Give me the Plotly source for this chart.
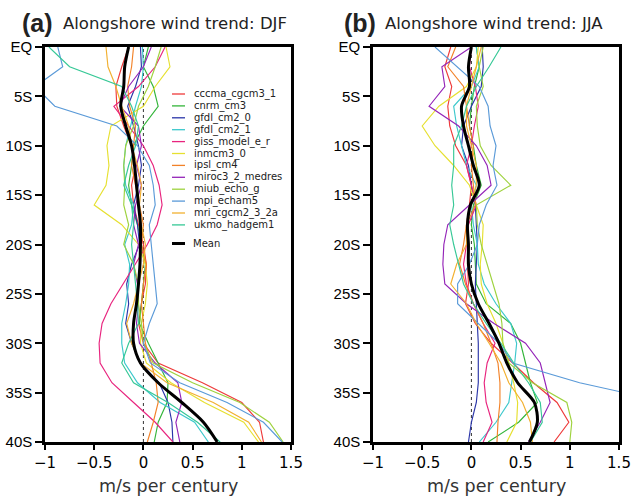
import plotly.graph_objects as go

W, H = 639, 496

lat = [0, 2, 4, 6, 8, 10, 12, 14, 16, 18, 20, 22, 24, 26, 28, 30, 32, 34, 36, 38, 40]
lat_ticks = [0, 5, 10, 15, 20, 25, 30, 35, 40]
lat_labels = ["EQ", "5S", "10S", "15S", "20S", "25S", "30S", "35S", "40S"]
x_ticks = [-1, -0.5, 0, 0.5, 1, 1.5]

models = ["cccma_cgcm3_1", "cnrm_cm3", "gfdl_cm2_0", "gfdl_cm2_1", "giss_model_e_r",
          "inmcm3_0", "ipsl_cm4", "miroc3_2_medres", "miub_echo_g", "mpi_echam5",
          "mri_cgcm2_3_2a", "ukmo_hadgem1"]
colors = ["#ee3a3a", "#33b53a", "#2a35a8", "#3cc8cc", "#e8247e", "#e6e030",
          "#f28228", "#9424b8", "#9ed23e", "#5a9ad8", "#f2b030", "#36c896"]

# DJF (panel a)
djf_cccma = [-0.15, -0.22, -0.28, -0.27, -0.20, -0.12, -0.08, -0.12, -0.10, -0.05, 0.00, 0.03, 0.02, -0.02, -0.05, 0.00, 0.15, 0.60, 1.00, 1.18, 1.22]
djf_cnrm = [0.05, 0.00, 0.10, 0.15, 0.00, -0.10, -0.12, -0.15, -0.12, -0.06, -0.02, 0.02, 0.00, -0.02, -0.04, 0.05, 0.15, 0.25, 0.24, 0.15, 0.11]
djf_gfdl0 = [-0.03, -0.02, -0.08, -0.16, -0.10, -0.05, -0.02, -0.05, -0.10, -0.06, -0.04, -0.12, -0.17, -0.15, -0.18, -0.12, -0.03, 0.16, 0.25, 0.29, 0.30]
djf_gfdl1 = [-0.01, 0.00, -0.02, -0.08, -0.13, -0.18, -0.20, -0.18, -0.10, -0.12, -0.19, -0.14, -0.15, -0.18, -0.22, -0.22, -0.19, -0.06, 0.17, 0.52, 0.66]
djf_giss = [0.22, 0.12, -0.05, -0.30, -0.15, 0.00, 0.10, 0.16, 0.19, 0.14, 0.04, -0.085, -0.21, -0.33, -0.42, -0.45, -0.44, -0.32, -0.10, 0.12, 0.30]
djf_inmcm = [0.23, 0.27, 0.12, 0.00, -0.33, -0.37, -0.35, -0.38, -0.50, -0.22, -0.05, 0.02, 0.04, 0.02, -0.02, -0.03, 0.03, 0.28, 0.62, 1.02, 1.17]
djf_ipsl = [-0.10, -0.12, -0.16, -0.14, -0.08, -0.10, -0.12, -0.08, -0.04, 0.00, -0.02, 0.03, 0.00, -0.02, 0.00, 0.02, 0.08, 0.13, 0.15, 0.10, 0.04]
djf_miroc = [0.08, 0.00, -0.15, -0.24, -0.05, -0.02, -0.07, -0.02, -0.08, -0.10, -0.05, -0.10, -0.06, -0.05, -0.07, -0.04, 0.12, 0.35, 0.39, 0.33, 0.37]
djf_miub = [0.18, 0.12, 0.05, -0.05, -0.10, -0.18, -0.20, -0.19, -0.20, -0.15, -0.20, -0.10, -0.05, -0.05, -0.02, 0.00, 0.10, 0.50, 0.98, 1.28, 1.42]
djf_mpi = [-0.87, -0.82, -1.10, -0.90, -0.27, -0.06, 0.06, 0.10, 0.12, 0.06, 0.08, 0.10, 0.12, 0.14, 0.06, 0.00, 0.07, 0.37, 0.85, 1.22, 1.41]
djf_mri = [-0.38, -0.36, -0.28, -0.22, -0.15, -0.12, -0.06, -0.02, -0.04, -0.02, 0.02, 0.00, -0.05, -0.10, -0.17, -0.12, -0.03, 0.24, 0.71, 1.07, 1.20]
djf_ukmo = [-0.96, -0.75, -0.22, -0.12, -0.05, -0.08, -0.15, -0.20, -0.12, -0.10, -0.12, -0.10, -0.08, -0.06, -0.05, -0.15, -0.22, -0.10, 0.25, 0.55, 0.78]
djf_mean = [-0.15, -0.19, -0.20, -0.23, -0.18, -0.12, -0.09, -0.07, -0.05, -0.03, -0.03, -0.035, -0.05, -0.07, -0.10, -0.10, -0.03, 0.15, 0.39, 0.61, 0.75]

# JJA (panel b)
jja_cccma = [-0.21, -0.27, -0.20, -0.24, -0.22, -0.16, -0.05, 0.00, -0.02, -0.05, -0.03, -0.04, -0.03, -0.06, 0.04, 0.20, 0.42, 0.63, 0.87, 0.99, 0.84]
jja_cnrm = [0.05, 0.08, 0.03, 0.00, -0.02, 0.02, 0.05, 0.10, 0.02, 0.00, 0.03, 0.04, 0.05, 0.15, 0.40, 0.50, 0.55, 0.60, 0.67, 0.48, 0.17]
jja_gfdl0 = [0.11, 0.12, 0.10, 0.00, -0.08, -0.10, -0.03, 0.00, 0.04, 0.05, 0.06, 0.05, 0.04, 0.05, 0.06, 0.07, 0.07, 0.07, 0.05, 0.00, -0.03]
jja_gfdl1 = [0.05, 0.08, 0.00, -0.18, -0.15, -0.10, -0.05, 0.05, 0.00, 0.02, 0.06, 0.07, 0.13, 0.25, 0.40, 0.46, 0.44, 0.41, 0.38, 0.25, 0.08]
jja_giss = [0.00, -0.02, 0.04, 0.07, 0.03, 0.00, -0.05, 0.00, 0.05, -0.03, -0.05, -0.08, -0.05, 0.02, 0.12, 0.24, 0.16, 0.13, 0.15, 0.21, 0.12]
jja_inmcm = [0.07, 0.05, -0.05, -0.33, -0.50, -0.37, -0.18, -0.02, 0.05, 0.12, 0.11, 0.09, 0.10, 0.16, 0.25, 0.32, 0.38, 0.43, 0.47, 0.46, 0.36]
jja_ipsl = [-0.16, -0.24, -0.08, -0.05, -0.02, 0.02, 0.00, 0.02, 0.04, -0.05, -0.08, -0.12, -0.06, 0.02, 0.12, 0.20, 0.27, 0.29, 0.29, 0.27, 0.26]
jja_miroc = [0.00, -0.30, -0.27, -0.43, -0.13, 0.05, 0.16, 0.20, -0.02, -0.24, -0.28, -0.29, -0.27, -0.05, 0.23, 0.55, 0.70, 0.75, 0.80, 0.70, 0.58]
jja_miub = [0.12, 0.08, 0.12, 0.05, 0.06, 0.09, 0.20, 0.40, 0.05, 0.06, 0.10, 0.16, 0.22, 0.28, 0.31, 0.32, 0.38, 0.62, 0.97, 1.02, 1.00]
jja_mpi = [-0.37, -0.15, 0.08, 0.17, 0.19, 0.25, 0.22, 0.26, 0.15, 0.08, 0.06, -0.02, -0.14, -0.14, 0.07, 0.28, 0.42, 1.10, 2.00, 2.60, 3.00]
jja_mri = [0.10, 0.05, 0.00, -0.05, -0.05, 0.00, 0.05, 0.05, 0.00, -0.05, -0.05, -0.15, -0.21, -0.05, 0.05, 0.18, 0.30, 0.38, 0.52, 0.60, 0.62]
jja_ukmo = [0.30, 0.18, 0.05, -0.05, -0.10, -0.18, -0.18, -0.20, -0.18, -0.22, -0.18, -0.13, -0.08, 0.02, 0.15, 0.30, 0.43, 0.58, 0.70, 0.72, 0.60]
jja_mean = [0.00, -0.03, -0.02, -0.10, -0.08, -0.03, 0.02, 0.08, -0.01, -0.04, -0.03, -0.03, 0.00, 0.07, 0.18, 0.28, 0.36, 0.47, 0.64, 0.67, 0.59]

djf_models = [djf_cccma, djf_cnrm, djf_gfdl0, djf_gfdl1, djf_giss, djf_inmcm,
              djf_ipsl, djf_miroc, djf_miub, djf_mpi, djf_mri, djf_ukmo]
jja_models = [jja_cccma, jja_cnrm, jja_gfdl0, jja_gfdl1, jja_giss, jja_inmcm,
              jja_ipsl, jja_miroc, jja_miub, jja_mpi, jja_mri, jja_ukmo]


def px(x):
    return x / W


def py(y):
    return 1 - y / H


fig = go.Figure()

panels = [("x", "y", djf_models, djf_mean), ("x2", "y2", jja_models, jja_mean)]
for xa, ya, series, mean in panels:
    for name, col, vals in zip(models, colors, series):
        fig.add_trace(go.Scatter(x=vals, y=lat, xaxis=xa, yaxis=ya, mode="lines",
                                 line=dict(color=col, width=1.15), name=name,
                                 showlegend=False, hoverinfo="skip"))
    fig.add_trace(go.Scatter(x=mean, y=lat, xaxis=xa, yaxis=ya, mode="lines",
                             line=dict(color="black", width=3, shape="spline",
                                       smoothing=0.8),
                             name="Mean", showlegend=False, hoverinfo="skip"))

tickfont_x = dict(family="DejaVu Sans", size=15, color="black")
tickfont_y = dict(family="Liberation Sans", size=15, color="black")

axis_common = dict(showline=True, linecolor="black", linewidth=2.5, mirror=True,
                   showgrid=False, zeroline=False, ticks="outside", tickwidth=1.5,
                   tickcolor="black", automargin=False)

dom_a = [px(45), px(291)]
dom_b = [px(373), px(619)]
dom_y = [py(442), py(47)]

fig.update_layout(
    width=W, height=H,
    margin=dict(l=0, r=0, t=0, b=0, autoexpand=False),
    paper_bgcolor="white", plot_bgcolor="white",
    xaxis=dict(domain=dom_a, range=[-1, 1.5], tickvals=x_ticks, ticklen=5,
               tickfont=tickfont_x, anchor="y", **axis_common),
    yaxis=dict(domain=dom_y, range=[40, 0], tickvals=lat_ticks, ticktext=lat_labels,
               ticklen=7, tickfont=tickfont_y, anchor="x", **axis_common),
    xaxis2=dict(domain=dom_b, range=[-1, 1.5], tickvals=x_ticks, ticklen=5,
                tickfont=tickfont_x, anchor="y2", **axis_common),
    yaxis2=dict(domain=dom_y, range=[40, 0], tickvals=lat_ticks, ticktext=lat_labels,
                ticklen=7, tickfont=tickfont_y, anchor="x2", **axis_common),
)

# zero reference lines
for xr, yr in [("x", "y domain"), ("x2", "y2 domain")]:
    fig.add_shape(type="line", xref=xr, yref=yr, x0=0, x1=0, y0=0, y1=1,
                  line=dict(color="#333333", width=1, dash="dot"), layer="below")

annotations = []
# titles
for letter, season, left in [("(a)", "DJF", 20), ("(b)", "JJA", 342)]:
    annotations.append(dict(text="<b>" + letter + "</b>", xref="paper", yref="paper",
                            x=px(left), y=py(22.5), xanchor="left", yanchor="middle",
                            showarrow=False,
                            font=dict(family="Liberation Sans", size=25, color="#222")))
    annotations.append(dict(text="Alongshore wind trend: " + season, xref="paper",
                            yref="paper", x=px(left + 41), y=py(24), xanchor="left",
                            yanchor="middle", showarrow=False,
                            font=dict(family="DejaVu Sans", size=16.5, color="#222")))
# axis titles
for cx in [168, 496]:
    annotations.append(dict(text="m/s per century", xref="paper", yref="paper",
                            x=px(cx), y=py(486), xanchor="center", yanchor="middle",
                            showarrow=False,
                            font=dict(family="DejaVu Sans", size=17.5, color="#333")))

# legend (panel a)
leg_top = 94
leg_step = 11.9
for i, (name, col) in enumerate(zip(models, colors)):
    yy = leg_top + i * leg_step
    fig.add_shape(type="line", xref="paper", yref="paper", x0=px(172), x1=px(185),
                  y0=py(yy), y1=py(yy), line=dict(color=col, width=1.3))
    annotations.append(dict(text=name, xref="paper", yref="paper", x=px(192),
                            y=py(yy), xanchor="left", yanchor="middle", showarrow=False,
                            font=dict(family="DejaVu Sans", size=10, color="#222")))
ym = 243.5
fig.add_shape(type="line", xref="paper", yref="paper", x0=px(172), x1=px(185),
              y0=py(ym), y1=py(ym), line=dict(color="black", width=3))
annotations.append(dict(text="Mean", xref="paper", yref="paper", x=px(191),
                        y=py(ym), xanchor="left", yanchor="middle", showarrow=False,
                        font=dict(family="DejaVu Sans", size=10, color="#222")))

fig.update_layout(annotations=annotations)
fig.write_html("out.html")
